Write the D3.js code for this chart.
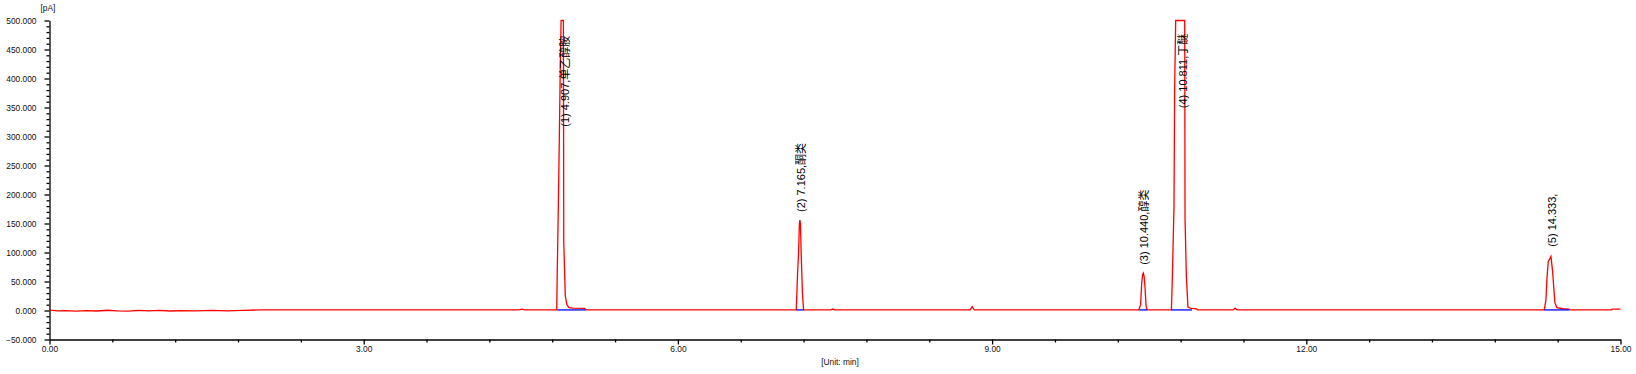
<!DOCTYPE html>
<html>
<head>
<meta charset="utf-8">
<script src="https://cdn.jsdelivr.net/npm/d3@7"></script>
<style>
  html, body { margin: 0; padding: 0; background: #fff; }
  svg { display: block; }
  text { font-family: "Liberation Sans", Arial, "Noto Sans CJK SC", sans-serif; }
</style>
</head>
<body>
<svg id="chart" width="1636" height="374"></svg>
<script>
// ---- data (time in min, signal in pA) ----
const traceTimes = [
  0.00, 0.08, 0.15, 0.25, 0.35, 0.45, 0.55, 0.65, 0.75, 0.85, 0.95, 1.05, 1.15, 1.25, 1.40, 1.55, 1.70, 1.85, 2.00,
  4.48, 4.51, 4.54,
  4.843, 4.848, 4.858, 4.868, 4.877, 4.885, 4.907, 4.910, 4.925, 4.940, 4.960, 5.000, 5.110, 5.125,
  7.130, 7.143, 7.152, 7.160, 7.165, 7.170, 7.177, 7.189, 7.200,
  7.46, 7.48, 7.50,
  8.79, 8.81, 8.83,
  10.400, 10.418, 10.428, 10.437, 10.444, 10.452, 10.460, 10.470, 10.480,
  10.712, 10.721, 10.737, 10.743, 10.753, 10.839, 10.842, 10.855, 10.870, 10.900, 10.953, 10.960,
  11.30, 11.32, 11.34,
  14.272, 14.288, 14.297, 14.310, 14.336, 14.352, 14.362, 14.374, 14.393, 14.450, 14.507, 14.520,
  14.915, 14.920, 15.000
];
const traceValues = [
  0.5, -0.8, -0.3, -1.0, -0.2, -0.9, 0.4, -0.6, -1.0, 0.2, -0.7, 0.3, -0.9, -0.2, -0.8, 0.2, -0.6, 0.3, 1.0,
  1.0, 2.5, 1.0,
  1.0, 65, 177, 299, 420, 500, 500, 118, 25, 10, 5, 4, 3.5, 1.0,
  1.0, 65, 99, 150, 156, 150, 99, 30, 1.0,
  1.0, 2.5, 1.0,
  1.0, 6.5, 1.0,
  1.0, 10, 45, 62, 64.5, 58, 40, 8, 1.0,
  1.0, 56, 182, 383, 500, 500, 160, 58, 6, 3.5, 3, 1.0,
  1.0, 4, 1.0,
  1.0, 18, 53, 84, 93, 67, 41, 13, 5, 3, 2.5, 1.0,
  1.0, 2.5, 2.5
];

const baselineStarts = [4.848, 7.132, 10.404, 10.712, 14.272];
const baselineEnds   = [5.120, 7.200, 10.480, 10.908, 14.510];

const peakTimes  = [4.907, 7.165, 10.440, 10.811, 14.333];
const peakLabels = ["(1) 4.907,单乙醇胺", "(2) 7.165,酮类", "(3) 10.440,醇类", "(4) 10.811,丁醚", "(5) 14.333,"];
const labelLevels = [303, 156, 65, 335, 96];

const yMajorTicks = [-50, 0, 50, 100, 150, 200, 250, 300, 350, 400, 450, 500];
const xMajorTicks = [0, 3, 6, 9, 12, 15];
const xMinorStep = 0.6;
const yMinorStep = 10;

// ---- drawing ----
const svg = d3.select("#chart");
const x = d3.scaleLinear().domain([0, 15]).range([49.5, 1620.5]);
const y = d3.scaleLinear().domain([-50, 500]).range([339.5, 20.5]);

const xMinor = d3.range(0, 15 + 1e-9, xMinorStep).filter(v => !xMajorTicks.some(m => Math.abs(m - v) < 1e-6));
const yMinor = d3.range(-50, 500 + 1e-9, yMinorStep).filter(v => !yMajorTicks.some(m => Math.abs(m - v) < 1e-6));

// x axis
const gx = svg.append("g").attr("transform", `translate(0,${y(-50)})`);
gx.call(d3.axisBottom(x).tickValues(xMajorTicks).tickSize(5).tickSizeOuter(0).tickPadding(2)
  .tickFormat(d3.format(".2f")));
svg.append("g").attr("transform", `translate(0,${y(-50)})`)
  .call(d3.axisBottom(x).tickValues(xMinor).tickSize(3).tickFormat(""))
  .call(g => g.select(".domain").remove());

// y axis
const gy = svg.append("g").attr("transform", `translate(${x(0)},0)`);
gy.call(d3.axisLeft(y).tickValues(yMajorTicks).tickSize(5).tickSizeOuter(0).tickPadding(8)
  .tickFormat(d3.format(".3f")));
svg.append("g").attr("transform", `translate(${x(0)},0)`)
  .call(d3.axisLeft(y).tickValues(yMinor).tickSize(3).tickFormat(""))
  .call(g => g.select(".domain").remove());

svg.selectAll(".tick text").attr("font-size", "8.4px").attr("fill", "#111")
  .attr("font-family", "\"Liberation Sans\", Arial, sans-serif");
svg.selectAll(".domain, .tick line").attr("stroke", "#000").attr("stroke-width", 1.3);

// axis titles
svg.append("text").attr("x", 48).attr("y", 11).attr("text-anchor", "middle")
  .attr("font-size", "8.4px").attr("fill", "#111").text("[pA]");
svg.append("text").attr("x", 840).attr("y", 365).attr("text-anchor", "middle")
  .attr("font-size", "8.4px").attr("fill", "#111").text("[Unit: min]");

// trace
const pts = traceTimes.map((t, i) => [t, traceValues[i]]);
const line = d3.line().x(d => x(d[0])).y(d => y(d[1]));
svg.append("path").datum(pts).attr("d", line)
  .attr("fill", "none").attr("stroke", "#ff0000").attr("stroke-width", 1.3);

// integration baselines
svg.append("g").selectAll("line").data(baselineStarts).join("line")
  .attr("x1", (d) => x(d)).attr("x2", (d, i) => x(baselineEnds[i]))
  .attr("y1", y(1)).attr("y2", y(1))
  .attr("stroke", "#0000ff").attr("stroke-width", 1.3);

// redraw trace on top of baselines where they overlap nothing else
// peak labels
svg.append("g").selectAll("text").data(peakTimes).join("text")
  .attr("transform", (d, i) => `translate(${x(d) + 1.5},${y(labelLevels[i]) - 8}) rotate(-90)`)
  .attr("dominant-baseline", "central")
  .attr("font-size", "11px").attr("fill", "#000")
  .text((d, i) => peakLabels[i]);
</script>
</body>
</html>
